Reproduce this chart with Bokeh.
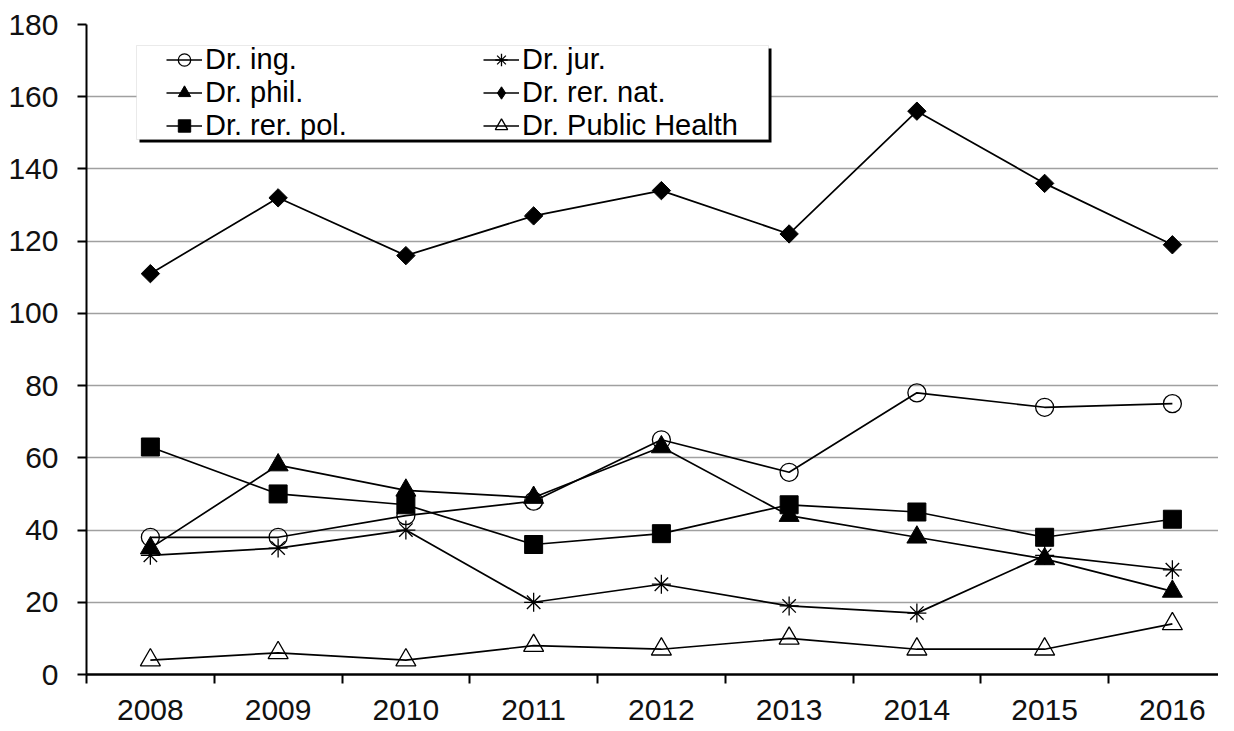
import math
from bokeh.plotting import figure
from bokeh.models import Range1d, FixedTicker, Legend, LegendItem, BoxAnnotation
from bokeh.embed import file_html
from bokeh.resources import INLINE

# ---- data ----
years = [2008, 2009, 2010, 2011, 2012, 2013, 2014, 2015, 2016]
dr_ing = [38, 38, 44, 48, 65, 56, 78, 74, 75]
dr_jur = [33, 35, 40, 20, 25, 19, 17, 33, 29]
dr_phil = [35, 58, 51, 49, 63, 44, 38, 32, 23]
dr_rer_nat = [111, 132, 116, 127, 134, 122, 156, 136, 119]
dr_rer_pol = [63, 50, 47, 36, 39, 47, 45, 38, 43]
dr_public_health = [4, 6, 4, 8, 7, 10, 7, 7, 14]
y_ticks = [0, 20, 40, 60, 80, 100, 120, 140, 160, 180]
labels_col1 = ["Dr. ing.", "Dr. phil.", "Dr. rer. pol."]
labels_col2 = ["Dr. jur.", "Dr. rer. nat.", "Dr. Public Health"]

FONT = "Liberation Sans"

p = figure(width=1218, height=729, output_backend="svg", toolbar_location=None,
           x_range=Range1d(2007.5, 2016.361), y_range=Range1d(0, 180),
           min_border_left=86, min_border_right=0, min_border_top=24, min_border_bottom=55)
p.outline_line_color = None
p.background_fill_color = "white"
p.border_fill_color = "white"

# axes
xa = p.xaxis[0]
xa.ticker = FixedTicker(ticks=years, minor_ticks=[y - 0.5 for y in years] + [years[-1] + 0.5])
xa.major_tick_out = 0
xa.major_tick_in = 0
xa.minor_tick_out = 9
xa.minor_tick_in = 0
xa.minor_tick_line_color = "black"
xa.minor_tick_line_width = 2
xa.axis_line_color = "black"
xa.axis_line_width = 2.5
xa.major_label_text_font = FONT
xa.major_label_text_font_size = "30px"
xa.major_label_text_color = "#111111"
xa.major_label_standoff = 16

ya = p.yaxis[0]
ya.ticker = FixedTicker(ticks=y_ticks)
ya.minor_tick_out = 0
ya.minor_tick_in = 0
ya.major_tick_out = 9
ya.major_tick_in = 0
ya.major_tick_line_color = "black"
ya.major_tick_line_width = 2
ya.axis_line_color = "black"
ya.axis_line_width = 2
ya.major_label_text_font = FONT
ya.major_label_text_font_size = "30px"
ya.major_label_text_color = "#111111"
ya.major_label_standoff = 19

p.xgrid.grid_line_color = None
p.ygrid.ticker = FixedTicker(ticks=y_ticks)
p.ygrid.grid_line_color = "#a0a0a0"
p.ygrid.grid_line_width = 1.5

LW = 1.7
series = [
    ("Dr. ing.", dr_ing, dict(marker="circle", size=18, fill_color=None, line_color="black", line_width=1.3)),
    ("Dr. jur.", dr_jur, dict(marker="asterisk", size=19, line_color="black", line_width=1.3)),
    ("Dr. phil.", dr_phil, dict(marker="triangle", size=20, fill_color="black", line_color="black")),
    ("Dr. rer. nat.", dr_rer_nat, dict(marker="square", size=13, angle=math.pi / 4, fill_color="black", line_color="black")),
    ("Dr. rer. pol.", dr_rer_pol, dict(marker="square", size=18, fill_color="black", line_color="black")),
    ("Dr. Public Health", dr_public_health, dict(marker="triangle", size=20, fill_color=None, line_color="black", line_width=1.3)),
]

items = {}
for name, vals, mk in series:
    lr = p.line(years, vals, line_color="black", line_width=LW)
    rends = [lr]
    if mk.get("angle"):
        # the legend does not rotate markers: a small diamond (hidden under the
        # rotated square in the plot) provides the legend swatch
        dr = p.scatter(years, vals, marker="diamond", size=13, fill_color="black", line_color="black")
        rends.append(dr)
    sr = p.scatter(years, vals, **mk)
    if not mk.get("angle"):
        rends.append(sr)
    items[name] = LegendItem(label=name, renderers=rends)

# legend frame (shadow + white box), placed in data space
px_x = 127.75
px_y = 650 / 180
box_l = 2007.5 + 50 / px_x
box_r = 2007.5 + 682 / px_x
box_t = 629 / px_y
box_b = 535 / px_y
shadow = BoxAnnotation(left=box_l + 3 / px_x, right=box_r + 3 / px_x,
                       top=box_t - 3 / px_y, bottom=box_b - 3 / px_y,
                       fill_color="black", fill_alpha=1, line_color=None)
frame_box = BoxAnnotation(left=box_l, right=box_r, top=box_t, bottom=box_b,
                          fill_color="white", fill_alpha=1, line_color="#b8b8b8", line_width=1)
p.add_layout(shadow)
p.add_layout(frame_box)

def make_legend(names, loc):
    lg = Legend(items=[items[n] for n in names], location=loc,
                orientation="vertical", padding=0, margin=0, spacing=0,
                glyph_width=36, glyph_height=31, label_height=31, label_standoff=3,
                label_text_font=FONT, label_text_font_size="29px", label_text_color="black",
                border_line_color=None, background_fill_alpha=0)
    return lg

p.add_layout(make_legend(labels_col1, (80, 532)))
p.add_layout(make_legend(labels_col2, (397, 532)))

open("out.html", "w").write(file_html(p, INLINE))
